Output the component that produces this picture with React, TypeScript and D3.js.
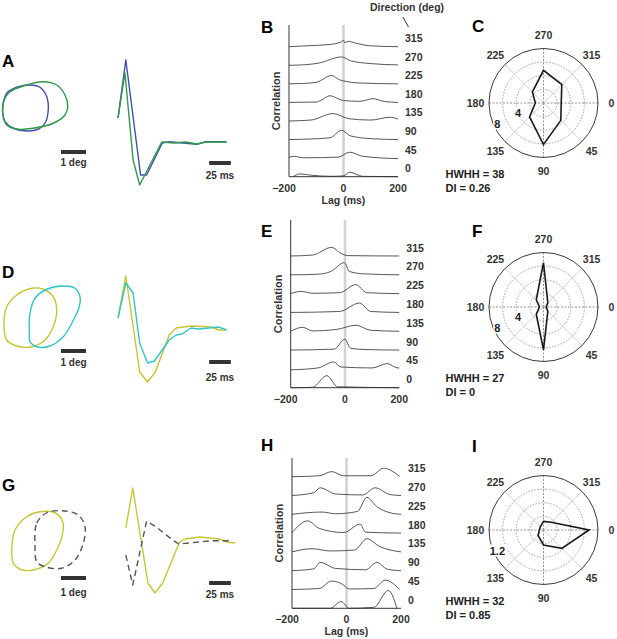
import React from 'react';
import * as d3 from 'd3';

// ---------- DATA ----------
const directions = [315, 270, 225, 180, 135, 90, 45, 0];
const lagTicks = [-200, 0, 200];
const polarAngles = [0, 45, 90, 135, 180, 225, 270, 315];
const polarLabelAngles = [0, 45, 90, 135, 180, 225, 270, 315];

// cross-correlation traces: [lag (ms), height in row units], ordered like `directions`
const corrB: [number, number][][] = [
  [[-200, 0], [-148, 0.04], [-50, 0.12], [-7, 0.27], [-1, 0.36], [5, 0.21], [17, 0.29], [48, 0.18], [96, 0.05], [200, 0]],
  [[-200, 0], [-140, 0.03], [-90, 0.12], [-7, 0.45], [25, 0.25], [100, 0.09], [200, 0.02]],
  [[-200, 0], [-150, 0.02], [-100, 0.08], [-44, 0.45], [-15, 0.22], [0, 0.16], [50, 0.05], [200, 0]],
  [[-200, 0], [-100, 0.02], [-82, 0.12], [-50, 0.36], [0, 0.1], [60, 0.06], [108, 0.2], [150, 0.05], [200, 0]],
  [[-200, 0], [-120, 0.05], [-38, 0.4], [20, 0.12], [100, 0.05], [170, 0.2], [200, 0.1]],
  [[-200, 0], [-50, 0.09], [-7, 0.5], [25, 0.2], [100, 0.05], [200, 0]],
  [[-200, 0.04], [-180, 0.1], [-150, 0.02], [-20, 0.05], [23, 0.32], [70, 0.1], [200, -0.03]],
  [[-185, 0], [-160, 0.15], [-120, 0.08], [-40, 0.02], [0, 0.05], [23, 0.24], [70, 0.02], [200, 0]],
];
const corrE: [number, number][][] = [
  [[-200, 0], [-120, 0.05], [-49, 0.46], [-15, 0.14], [10, 0.02], [200, 0]],
  [[-200, 0], [-100, 0.03], [-52, 0.18], [-2, 0.65], [16, 0.18], [70, 0.05], [200, 0]],
  [[-200, 0], [-162, 0.12], [-120, 0.02], [-20, 0.05], [40, 0.48], [80, 0.05], [200, 0]],
  [[-200, 0], [-20, 0.05], [53, 0.5], [95, 0.05], [200, 0]],
  [[-200, 0], [-156, 0.21], [-120, 0.02], [-30, 0.1], [40, 0.32], [95, 0.05], [200, 0]],
  [[-200, 0], [-40, 0.05], [0, 0.58], [20, 0.1], [70, 0.03], [200, 0]],
  [[-200, -0.05], [-100, 0.05], [-42, 0.37], [-15, 0.1], [100, 0.05], [155, 0.28], [195, 0.05], [200, 0.05]],
  [[-200, 0], [-120, 0.02], [-67, 0.64], [-27, 0.05], [200, 0]],
];
const corrH: [number, number][][] = [
  [[-200, 0], [-100, 0.05], [-54, 0.27], [-10, 0.05], [90, 0.05], [136, 0.45], [195, 0.02]],
  [[-200, 0], [-120, 0.15], [-97, 0.41], [-40, 0.08], [60, 0.03], [105, 0.41], [160, 0.05], [200, 0]],
  [[-200, 0], [-90, 0.12], [-40, 0.03], [40, 0.15], [75, 0.9], [110, 0.42], [160, 0.08], [200, 0]],
  [[-200, 0.02], [-142, 0.65], [-100, 0.25], [-10, 0.03], [50, 0.48], [70, 0.05], [200, 0]],
  [[-200, 0], [-127, 0.17], [-60, 0.05], [30, 0.1], [75, 0.7], [120, 0.3], [200, 0]],
  [[-200, 0], [-120, 0.1], [-97, 0.44], [-40, 0.12], [70, 0.05], [111, 0.44], [150, 0.08], [200, 0]],
  [[-200, 0], [-100, 0.05], [-56, 0.45], [-17, 0.3], [10, 0.03], [100, 0.05], [142, 0.5], [195, 0]],
  [[-200, 0], [-60, 0], [-20, 0.36], [10, 0], [100, 0.05], [154, 0.95], [185, 0]],
];

// direction tuning (spikes/s), ordered like polarAngles
const tuningC = [2.6, 3.6, 6.1, 2.9, 1.2, 2.3, 4.8, 3.8];
const tuningF = [0.4, 0.9, 6.3, 1.5, 0.6, 1.5, 6.5, 0.9];
const tuningI = [1.0, 0.57, 0.33, 0.17, 0.09, 0.1, 0.19, 0.24];

// receptive field contours (deg)
const rfABlue: [number, number][] = [[0.11, 1.07], [0.27, 0.53], [0.67, 0.29], [1.27, 0.2], [1.6, 0.29], [1.87, 0.67], [1.93, 1.2], [1.8, 1.73], [1.53, 1.97], [1.07, 2.04], [0.53, 1.93], [0.2, 1.67], [0.11, 1.33]];
const rfAGreen: [number, number][] = [[0.16, 0.8], [0.4, 0.47], [0.93, 0.24], [1.73, 0.07], [2.27, 0.2], [2.6, 0.6], [2.71, 1.07], [2.6, 1.4], [2.13, 1.73], [1.33, 1.93], [0.73, 1.97], [0.27, 1.8], [0.11, 1.33], [0.13, 0.93]];
const rfDYellow: [number, number][] = [[0.16, 1.87], [0.27, 1.07], [0.67, 0.6], [1.27, 0.33], [1.73, 0.37], [2.13, 0.67], [2.27, 1.2], [2.13, 1.87], [1.8, 2.4], [1.27, 2.67], [0.67, 2.64], [0.27, 2.4]];
const rfDCyan: [number, number][] = [[1.17, 2.13], [1.2, 1.33], [1.4, 0.73], [1.87, 0.37], [2.47, 0.24], [3.0, 0.33], [3.2, 0.67], [3.17, 1.07], [2.87, 1.73], [2.53, 2.27], [2.0, 2.64], [1.47, 2.67], [1.2, 2.47]];
const rfGYellow: [number, number][] = [[0.47, 1.87], [0.6, 1.0], [1.07, 0.47], [1.6, 0.27], [2.2, 0.31], [2.51, 0.67], [2.51, 1.13], [2.33, 1.67], [1.93, 2.33], [1.33, 2.6], [0.8, 2.57], [0.53, 2.33]];
const rfGGray: [number, number][] = [[1.4, 1.67], [1.47, 0.73], [1.87, 0.31], [2.47, 0.23], [3.13, 0.4], [3.4, 0.87], [3.33, 1.53], [3.0, 2.2], [2.47, 2.53], [1.8, 2.47], [1.47, 2.27]];

// temporal kernels: [time (ms), amplitude (a.u.)]
const kerABlue: [number, number][] = [[0, 2.4], [9, 8.2], [26, -3.3], [33, -3.3], [51, -0.1], [59, 0.03], [78, -0.13], [91, -0.23], [101, 0.03], [125, 0.03]];
const kerAGreen: [number, number][] = [[0, 2.4], [8, 6.9], [17.4, -1.8], [25, -4.3], [50.4, 0], [65, -0.1], [78, 0], [91, -0.2], [101, 0], [125, 0]];
const kerDYellow: [number, number][] = [[0, 1.0], [9, 5.2], [25, -4.4], [34, -5.4], [43, -4.4], [59, -0.7], [67, 0], [84, 0.2], [108, 0.1], [116, -0.2], [125, -0.2]];
const kerDCyan: [number, number][] = [[0, 1.0], [9, 4.5], [17.4, 3.5], [25, -1.5], [34, -3.5], [42, -3.3], [59, -1.2], [67, -0.7], [74, -0.6], [84, 0], [93, -0.1], [116, 0.1], [125, -0.2]];
const kerGYellow: [number, number][] = [[9, 1.3], [17, 5.3], [34.5, -4.2], [42.5, -5.2], [51.5, -4.2], [71, -0.1], [77, 0.2], [94, 0.4], [117, 0.2], [125, -0.1], [135, -0.2]];
const kerGGray: [number, number][] = [[9, -1.4], [17, -4.4], [33, 2.0], [44, 1.4], [63, 0.1], [70, -0.3], [93, -0.1], [108, 0.03], [131, 0.03]];

const FONT = 'Liberation Sans, Arial, Helvetica, sans-serif';
const BLUE = '#3f4fb0';
const GREEN = '#2f9a4a';
const YELLOW = '#c6c536';
const CYAN = '#33c4c8';

// ---------- COMPONENTS ----------
function RFRow({ y0, contours, kernels, kBase, kx0, degBarY, msBarY, degTextY, msTextY }: any) {
  const degX = d3.scaleLinear().domain([0, 1]).range([0, 25]);
  const degY = d3.scaleLinear().domain([0, 1]).range([y0, y0 + 25]);
  const tX = d3.scaleLinear().domain([0, 25]).range([kx0, kx0 + 21.7]);
  const aY = d3.scaleLinear().domain([0, 1]).range([kBase, kBase - 10]);
  const closed = d3.line<[number, number]>().x(d => degX(d[0])).y(d => degY(d[1])).curve(d3.curveCatmullRomClosed.alpha(0.5));
  const open = d3.line<[number, number]>().x(d => tX(d[0])).y(d => aY(d[1]));
  return (
    <g>
      {contours.map((c: any, i: number) => (
        <path key={i} d={closed(c.pts) || ''} fill="none" stroke={c.color} strokeWidth={1.4} strokeDasharray={c.dash || undefined} />
      ))}
      {kernels.map((k: any, i: number) => (
        <path key={i} d={open(k.pts) || ''} fill="none" stroke={k.color} strokeWidth={1.4} strokeDasharray={k.dash || undefined} strokeLinejoin="round" />
      ))}
      <rect x={degX(2.44)} y={degBarY - 2} width={degX(1)} height={4} fill="#333" />
      <text x={degX(2.94)} y={degTextY} fontSize={10} fontWeight="bold" fill="#333" textAnchor="middle" fontFamily={FONT}>1 deg</text>
      <rect x={tX(105)} y={msBarY - 2} width={tX(25) - tX(0)} height={4} fill="#333" />
      <text x={tX(117.5)} y={msTextY} fontSize={10} fontWeight="bold" fill="#333" textAnchor="middle" fontFamily={FONT}>25 ms</text>
    </g>
  );
}

function CorrPanel({ traces, x0, x1, top, first, bottom, lagLabel }: any) {
  const x = d3.scaleLinear().domain([-200, 200]).range([x0, x1]);
  const row = d3.scalePoint<number>().domain(directions).range([first, bottom]);
  const sp = (bottom - first) / 7;
  const h = d3.scaleLinear().domain([0, 1]).range([0, sp]);
  return (
    <g fontFamily={FONT}>
      <line x1={x(0)} x2={x(0)} y1={top} y2={bottom} stroke="#d2d2d2" strokeWidth={2.6} />
      {traces.map((tr: [number, number][], i: number) => {
        const b = row(directions[i])!;
        const ln = d3.line<[number, number]>().x(d => x(d[0])).y(d => b - h(d[1])).curve(d3.curveMonotoneX);
        return <path key={i} d={ln(tr) || ''} fill="none" stroke="#444" strokeWidth={0.9} />;
      })}
      <line x1={x0} x2={x0} y1={top} y2={bottom} stroke="#333" strokeWidth={1} />
      <line x1={x0} x2={x1} y1={bottom} y2={bottom} stroke="#333" strokeWidth={1} />
      {directions.map(d => (
        <text key={d} x={x1 + 7} y={row(d)! - 8.5} dominantBaseline="central" fontSize={10.5} fontWeight="bold" fill="#333">{d}</text>
      ))}
      {lagTicks.map(t => (
        <text key={t} x={x(t) + (t === -200 ? -5 : 0)} y={bottom + 15} textAnchor="middle" fontSize={10.5} fontWeight="bold" fill="#333">{t < 0 ? '\u2212' + Math.abs(t) : t}</text>
      ))}
      {lagLabel && (
        <text x={x(0)} y={bottom + 27} textAnchor="middle" fontSize={10.5} fontWeight="bold" fill="#333">Lag (ms)</text>
      )}
      <text transform={`translate(${x0 - 13},${(top + bottom) / 2}) rotate(-90)`} textAnchor="middle" dominantBaseline="central" fontSize={11} fontWeight="bold" fill="#333">Correlation</text>
    </g>
  );
}

function PolarPanel({ cx, cy, values, rmax, ringLabels, hwhh, di }: any) {
  const R = 54.5;
  const r = d3.scaleLinear().domain([0, rmax]).range([0, R]);
  const rad = (a: number) => (a * Math.PI) / 180;
  const pt = (a: number, v: number): [number, number] => [cx + r(v) * Math.cos(rad(a)), cy + r(v) * Math.sin(rad(a))];
  const rings = [0.25, 0.5, 0.75].map(f => f * rmax);
  const poly = d3.line<[number, number]>().curve(d3.curveLinearClosed)(polarAngles.map((a, i) => pt(a, values[i])));
  return (
    <g fontFamily={FONT}>
      {polarAngles.map(a => {
        const [ex, ey] = pt(a, rmax);
        const axial = a % 90 === 0;
        return <line key={a} x1={cx} y1={cy} x2={ex} y2={ey} stroke={axial ? '#777' : '#c4c4c4'} strokeWidth={0.8} strokeDasharray={axial ? '2 1.5' : undefined} />;
      })}
      {rings.map((v, i) => (
        <circle key={i} cx={cx} cy={cy} r={r(v)} fill="none" stroke="#888" strokeWidth={0.8} strokeDasharray="1.5 1.5" />
      ))}
      <circle cx={cx} cy={cy} r={R} fill="none" stroke="#222" strokeWidth={0.9} />
      {ringLabels.map((l: any, i: number) => {
        const outer = l.v >= rmax;
        const rr = r(l.v) - (outer ? 4 : 0);
        const a = rad(outer ? 156 : 159);
        const lx = cx + rr * Math.cos(a);
        const ly = cy + rr * Math.sin(a);
        const w = l.label.length * 6 + 2;
        return (
          <g key={i}>
            <rect x={lx - w / 2} y={ly - 6} width={w} height={12} fill="#fff" />
            <text x={lx} y={ly} textAnchor="middle" dominantBaseline="central" fontSize={11} fontWeight="bold" fill="#222">{l.label}</text>
          </g>
        );
      })}
      <path d={poly || ''} fill="none" stroke="#1a1a1a" strokeWidth={1.6} strokeLinejoin="miter" />
      {polarLabelAngles.map(a => {
        const lx = cx + 68 * Math.cos(rad(a));
        const ly = cy + 68 * Math.sin(rad(a));
        return <text key={a} x={lx} y={ly} textAnchor="middle" dominantBaseline="central" fontSize={10.5} fontWeight="bold" fill="#333">{a}</text>;
      })}
      <text x={cx - 98} y={cy + 75} fontSize={11} fontWeight="bold" fill="#222">HWHH = {hwhh}</text>
      <text x={cx - 98} y={cy + 89} fontSize={11} fontWeight="bold" fill="#222">DI = {di}</text>
    </g>
  );
}

const PanelLetter = ({ x, y, t }: any) => (
  <text x={x} y={y} fontSize={17} fontWeight="bold" fill="#000" fontFamily={FONT}>{t}</text>
);

export default function App() {
  return (
    <svg width={617} height={639} style={{ position: 'absolute', left: 0, top: 0, background: '#fff' }}>
      <rect width={617} height={639} fill="#fff" />
      {/* Row 1 */}
      <PanelLetter x={2} y={67} t="A" />
      <PanelLetter x={261} y={33} t="B" />
      <PanelLetter x={472} y={32} t="C" />
      <RFRow y0={80} kBase={142} kx0={118} degBarY={152} msBarY={163} degTextY={166} msTextY={179}
        contours={[{ pts: rfABlue, color: BLUE }, { pts: rfAGreen, color: GREEN }]}
        kernels={[{ pts: kerABlue, color: BLUE }, { pts: kerAGreen, color: GREEN }]} />
      <CorrPanel traces={corrB} x0={289} x1={398} top={25} first={46.7} bottom={176.7} lagLabel={true} />
      <text x={370} y={11} fontSize={10.5} fontWeight="bold" fill="#333" fontFamily={FONT}>Direction (deg)</text>
      <line x1={403} y1={17} x2={408.5} y2={27} stroke="#333" strokeWidth={1} />
      <PolarPanel cx={543.5} cy={103} values={tuningC} rmax={8} ringLabels={[{ v: 4, label: '4' }, { v: 8, label: '8' }]} hwhh={38} di="0.26" />

      {/* Row 2 */}
      <PanelLetter x={2} y={278} t="D" />
      <PanelLetter x={261} y={237} t="E" />
      <PanelLetter x={472} y={237} t="F" />
      <RFRow y0={280} kBase={328} kx0={118} degBarY={351} msBarY={362} degTextY={366} msTextY={381}
        contours={[{ pts: rfDYellow, color: YELLOW }, { pts: rfDCyan, color: CYAN }]}
        kernels={[{ pts: kerDYellow, color: YELLOW }, { pts: kerDCyan, color: CYAN }]} />
      <CorrPanel traces={corrE} x0={290.7} x1={399.3} top={220} first={256} bottom={387.7} lagLabel={false} />
      <PolarPanel cx={543.5} cy={307} values={tuningF} rmax={8} ringLabels={[{ v: 4, label: '4' }, { v: 8, label: '8' }]} hwhh={27} di="0" />

      {/* Row 3 */}
      <PanelLetter x={2} y={491} t="G" />
      <PanelLetter x={261} y={451} t="H" />
      <PanelLetter x={472} y={452} t="I" />
      <RFRow y0={505} kBase={541} kx0={118} degBarY={578} msBarY={583} degTextY={596} msTextY={598}
        contours={[{ pts: rfGYellow, color: YELLOW }, { pts: rfGGray, color: '#555', dash: '6 4' }]}
        kernels={[{ pts: kerGYellow, color: YELLOW }, { pts: kerGGray, color: '#555', dash: '6 4' }]} />
      <CorrPanel traces={corrH} x0={292} x1={401} top={458} first={476.7} bottom={608.3} lagLabel={true} />
      <PolarPanel cx={543.5} cy={530} values={tuningI} rmax={1.2} ringLabels={[{ v: 1.2, label: '1.2' }]} hwhh={32} di="0.85" />
    </svg>
  );
}
